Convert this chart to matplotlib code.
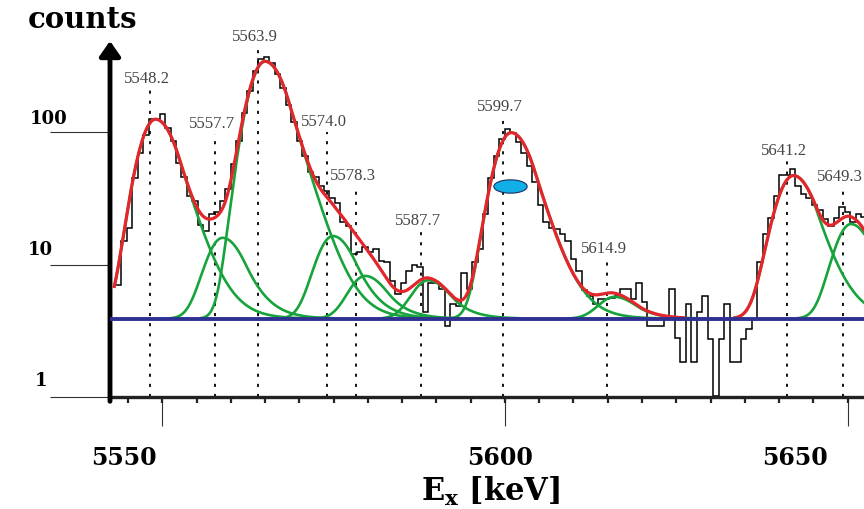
import numpy as np
import matplotlib
matplotlib.use('Agg')
import matplotlib.pyplot as plt
from matplotlib.path import Path
from matplotlib.ticker import MultipleLocator, NullLocator

plt.rcParams['mathtext.fontset'] = 'dejavuserif'

# --- spectrum ---
bin_start = 5543.2      # keV, first bin edge
bin_width = 0.8         # keV
counts = [
    7, 15, 19, 45, 70, 95, 125, 126, 136, 108,
    85, 58, 46, 33, 30, 20, 18, 24, 25, 30,
    37, 57, 85, 140, 205, 290, 355, 370, 330, 275,
    215, 160, 118, 85, 66, 50, 46, 39, 36, 32,
    29, 21, 19.5, 12, 12.5, 13.5, 12.5, 13, 10.7, 10.5,
    7.5, 6.0, 7.3, 9.0, 10, 9.5, 4.4, 7.3, 7.3, 6.5,
    3.45, 5.0, 4.9, 8.7, 6.5, 10.4, 13, 24, 45, 66,
    88, 106, 98, 84, 70, 55, 42, 28, 21, 19,
    18.5, 17, 15, 11, 9, 6.4, 5.8, 5.0, 5.5, 5.5,
    5.6, 5.8, 6.5, 6.5, 5.5, 7.3, 5.2, 3.45, 3.45, 3.45,
    4.1, 6.5, 2.8, 1.83, 5.0, 1.83, 4.36, 5.8, 2.74, 1.02,
    2.74, 5.0, 1.83, 1.83, 2.74, 3.26, 3.88, 10.4, 17, 22.5,
    33, 47, 47, 52.6, 39, 34, 32, 28, 26, 22,
    19.5, 22.5, 27, 25, 21, 24, 23,
]

# --- fit components ---
baseline = 3.9
peak_labels = [5548.2, 5557.7, 5563.9, 5574.0, 5578.3, 5587.7, 5599.7, 5614.9, 5641.2, 5649.3]
peak_centres = [5549.0, 5558.8, 5565.0, 5574.9, 5579.6, 5588.8, 5600.9, 5616.0, 5642.1, 5650.5]
peak_heights = [121, 12, 336, 12.5, 4.3, 3.7, 95, 1.8, 43, 16.3]
peak_sigma_low = [2.2, 2.2, 2.2, 2.2, 2.2, 2.2, 2.2, 2.2, 2.35, 2.2]
sigma_high = 2.9
tail_k = 1.2

marker_energy, marker_counts = 5600.8, 38.8

# --- layout (not data) ---
line_tops = [211, 96.6, 438, 100, 39.1, 17.9, 130, 11.0, 60.4, 38.4]
x_major = [5550, 5600, 5650]
x_label_dx = [-38, -5, -53]
y_major = [1, 10, 100]
y_label_off = [(-69, 17), (-70, 15), (-61, 14)]

RED = '#e3262b'
GREEN = '#17a33b'
BLUE = '#2e3192'


def line_shape(e, c, s_low):
    d = e - c
    t = d / sigma_high
    high = np.where(t <= tail_k, np.exp(-t**2 / 2), np.exp(tail_k**2 / 2 - tail_k * t))
    low = np.exp(-d**2 / (2 * s_low**2))
    return np.where(d > 0, high, low)


fig = plt.figure(figsize=(8.64, 5.1), dpi=100)
ax = fig.add_axes([110 / 864, 112 / 510, 754 / 864, 356 / 510])
ax.set_yscale('log')
ax.set_xlim(5542.37, 5652.4)
ax.set_ylim(1, 10 ** (356 / 132.5))

# histogram
edges = bin_start + bin_width * np.arange(len(counts) + 1)
ax.stairs(counts, edges, baseline=None, color='black', lw=1.1, zorder=2)

# fit curves
e = np.linspace(5543.0, 5652.4, 2000)
total = np.full_like(e, baseline)
for c, a, sl in zip(peak_centres, peak_heights, peak_sigma_low):
    g = a * line_shape(e, c, sl)
    total += g
    ax.plot(e, np.where(g > 0.03, baseline + g, np.nan), color=GREEN, lw=1.9, zorder=3)
ax.plot(e, np.where(total - baseline > 0.06, total, np.nan), color=RED, lw=2.3, zorder=4)
ax.axhline(baseline, color=BLUE, lw=2.8, zorder=5)

# peak markers
for lab, top in zip(peak_labels, line_tops):
    ax.plot([lab, lab], [1, top], color='black', lw=1.3, ls=(0, (1.7, 3.9)), zorder=1)
    ax.annotate(f'{lab:.1f}', xy=(lab, top), xytext=(-3, 3), textcoords='offset pixels',
                ha='center', va='bottom', fontsize=12, family='Liberation Serif',
                color='#444444')

# blue ellipse marker
theta = np.linspace(0, 2 * np.pi, 60)
ellipse = Path(np.column_stack([2.5 * np.cos(theta), np.sin(theta)]))
ax.plot(marker_energy, marker_counts, marker=ellipse, ms=24, mfc='#12aee8', mec='#1b2f5e',
        mew=0.8, zorder=6)

# axes styling
for side in ['top', 'right', 'left']:
    ax.spines[side].set_visible(False)
ax.spines['bottom'].set_linewidth(2.4)
ax.spines['bottom'].set_color('#222222')

ax.set_yticks(y_major)
ax.set_yticklabels([''] * len(y_major))
ax.yaxis.set_minor_locator(NullLocator())
ax.tick_params(axis='y', which='major', length=43, width=0.8, direction='out', color='#333333')

ax.xaxis.remove_overlapping_locs = False
ax.set_xticks(x_major)
ax.set_xticklabels([''] * len(x_major))
ax.xaxis.set_minor_locator(MultipleLocator(5))
ax.tick_params(axis='x', which='major', length=21, width=0.8, direction='out', color='#333333')
ax.tick_params(axis='x', which='minor', length=4, width=1.6, direction='out', color='#222222')

for val, dx in zip(x_major, x_label_dx):
    ax.annotate(str(val), xy=(val, 0), xycoords=('data', 'axes fraction'), xytext=(dx, -60),
                textcoords='offset pixels', ha='center', va='center', fontsize=17,
                fontweight='bold', family='DejaVu Serif', annotation_clip=False)

for val, (dx, dy) in zip(y_major, y_label_off):
    ax.annotate(str(val), xy=(0, val), xycoords=('axes fraction', 'data'), xytext=(dx, dy),
                textcoords='offset pixels', ha='center', va='center', fontsize=13,
                fontweight='bold', family='DejaVu Serif', annotation_clip=False)

# y axis arrow
ax.annotate('', xy=(0, 1.0), xycoords='axes fraction', xytext=(0, -0.012),
            arrowprops=dict(arrowstyle='-|>,head_width=0.42,head_length=0.6', lw=3.5,
                            color='black', shrinkA=0, shrinkB=0, mutation_scale=15),
            annotation_clip=False)

fig.text(83 / 864, 1 - 20 / 510, 'counts', ha='center', va='center', fontsize=21,
         fontweight='bold', family='DejaVu Serif')
fig.text(490 / 864, 1 - 491 / 510, r'$\mathbf{E_x}$ [keV]', ha='center', va='center',
         fontsize=22, fontweight='bold', family='DejaVu Serif')

fig.savefig('out.png', dpi=100)
